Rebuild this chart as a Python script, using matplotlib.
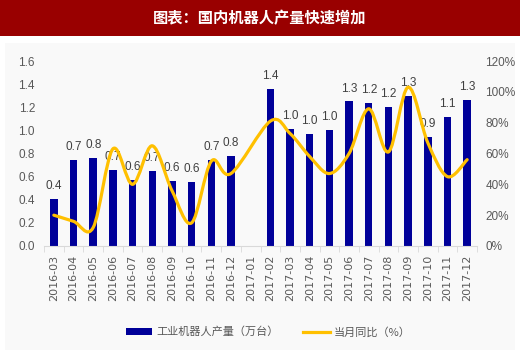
import matplotlib
matplotlib.use("Agg")
import matplotlib.pyplot as plt
import numpy as np
from matplotlib.path import Path
from matplotlib.patches import PathPatch, Rectangle
from matplotlib.lines import Line2D

plt.rcParams["font.family"] = ["Liberation Sans", "Noto Sans CJK SC", "DejaVu Sans"]

# data
months = ["2016-03", "2016-04", "2016-05", "2016-06", "2016-07", "2016-08",
          "2016-09", "2016-10", "2016-11", "2016-12", "2017-01", "2017-02",
          "2017-03", "2017-04", "2017-05", "2017-06", "2017-07", "2017-08",
          "2017-09", "2017-10", "2017-11", "2017-12"]
output = [0.41, 0.74, 0.76, 0.66, 0.57, 0.65, 0.565, 0.556, 0.74, 0.78, np.nan,
          1.36, 1.01, 0.97, 1.00, 1.25, 1.24, 1.20, 1.30, 0.94, 1.12, 1.26]
output_labels = ["0.4", "0.7", "0.8", "0.7", "0.6", "0.7", "0.6", "0.6", "0.7", "0.8", "",
                 "1.4", "1.0", "1.0", "1.0", "1.3", "1.2", "1.2", "1.3", "0.9", "1.1", "1.3"]
yoy = [20, 16, 12, 63, 40, 65, 36, 15, 55, 47, np.nan,
       81, 73, 58, 47, 60, 89, 61, 103, 67, 45, 56]

BAR_C = "#000099"
LINE_C = "#FFC000"
TXT_C = "#595959"

fig = plt.figure(figsize=(5.2, 3.5), dpi=100)
fig.patch.set_facecolor("white")
fig.patches.append(Rectangle((0.01, 0.0), 0.98, 1 - 43 / 350, transform=fig.transFigure,
                             facecolor="#F9F9F9", edgecolor="none", zorder=-10))
# title band
fig.patches.append(Rectangle((0, 1 - 36 / 350), 1, 36 / 350, transform=fig.transFigure,
                             facecolor="#990000", edgecolor="none"))
fig.text(0.5, 1 - 18 / 350, "图表：国内机器人产量快速增加", color="white", fontsize=11,
         fontweight="bold", ha="center", va="center", family=["Noto Sans CJK SC"])

ax = fig.add_axes([44 / 520, 1 - 246 / 350, 433 / 520, 185 / 350])
ax.set_facecolor("none")
x = np.arange(len(months))
ax.bar(x, output, width=0.38, color=BAR_C, zorder=2)
for xi, v, lab in zip(x, output, output_labels):
    if lab:
        ax.annotate(lab, (xi, v), xytext=(0, 5), textcoords="offset points",
                    ha="center", va="bottom", fontsize=8.5, color="#404040")

ax.set_xlim(-0.5, len(months) - 0.5)
ax.set_ylim(0, 1.6)
ax.set_yticks(np.arange(0, 1.61, 0.2))
ax.set_yticklabels([f"{t:.1f}" for t in np.arange(0, 1.61, 0.2)])
ax.set_xticks(x)
ax.set_xticklabels(months, rotation=90, family=["DejaVu Sans"], fontsize=8)
ax.set_xticks(np.arange(-0.5, len(months), 1), minor=True)
ax.tick_params(axis="x", which="major", length=0, pad=6.5, colors=TXT_C)
ax.tick_params(axis="x", which="minor", length=4, color="#D9D9D9", direction="out")
ax.tick_params(axis="y", length=0, pad=6.5, colors=TXT_C, labelsize=8.5)
for s in ["left", "right", "top"]:
    ax.spines[s].set_visible(False)
ax.spines["bottom"].set_color("#D9D9D9")

ax2 = ax.twinx()
ax2.set_ylim(0, 120)
ax2.set_yticks(np.arange(0, 121, 20))
ax2.set_yticklabels([f"{t}%" for t in range(0, 121, 20)])
ax2.tick_params(axis="y", length=0, pad=6, colors=TXT_C, labelsize=8.5)
for s in ax2.spines.values():
    s.set_visible(False)

# smoothed line (Catmull-Rom style bezier through the points, gap connected)
yv = np.array(yoy, dtype=float)
ok = ~np.isnan(yv)
px = x[ok].astype(float)
py = yv[ok]
verts = [(px[0], py[0])]
codes = [Path.MOVETO]
n = len(px)
for i in range(n - 1):
    p0 = np.array([px[max(i - 1, 0)], py[max(i - 1, 0)]])
    p1 = np.array([px[i], py[i]])
    p2 = np.array([px[i + 1], py[i + 1]])
    p3 = np.array([px[min(i + 2, n - 1)], py[min(i + 2, n - 1)]])
    c1 = p1 + (p2 - p0) / 6
    c2 = p2 - (p3 - p1) / 6
    verts += [tuple(c1), tuple(c2), tuple(p2)]
    codes += [Path.CURVE4] * 3
ax2.add_patch(PathPatch(Path(verts, codes), facecolor="none", edgecolor=LINE_C,
                        lw=2.3, capstyle="round", joinstyle="round", zorder=3))

handles = [Rectangle((0, 0), 1, 1, facecolor=BAR_C, edgecolor="none"),
           Line2D([], [], color=LINE_C, lw=2.3)]
fig.legend(handles, ["工业机器人产量（万台）", "当月同比（%）"], loc="center",
           bbox_to_anchor=(268 / 520, 1 - 332 / 350), ncol=2, frameon=False,
           fontsize=8, handlelength=2.4, handleheight=0.6, handletextpad=0.35,
           columnspacing=2.2, labelcolor=TXT_C, prop={"family": ["Noto Sans CJK SC"], "size": 8})

fig.savefig("out.png", dpi=100)
